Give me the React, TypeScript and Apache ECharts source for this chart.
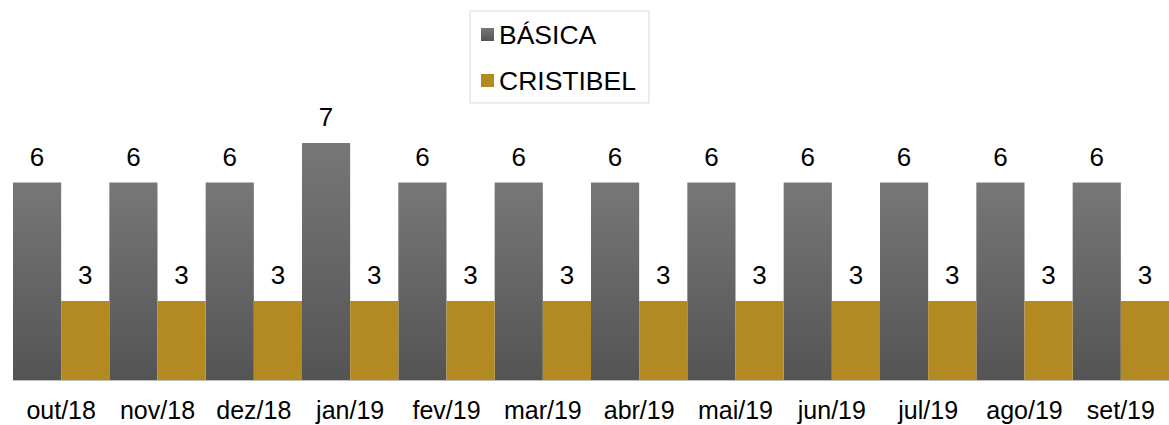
import React, { useEffect, useRef } from "react";
import * as echarts from "echarts";

const categories = ["out/18", "nov/18", "dez/18", "jan/19", "fev/19", "mar/19", "abr/19", "mai/19", "jun/19", "jul/19", "ago/19", "set/19"];
const basica = [6, 6, 6, 7, 6, 6, 6, 6, 6, 6, 6, 6];
const cristibel = [3, 3, 3, 3, 3, 3, 3, 3, 3, 3, 3, 3];

const FONT = "'Liberation Sans', Arial, sans-serif";

export default function App() {
  const ref = useRef<HTMLDivElement>(null);
  useEffect(() => {
    if (!ref.current) return;
    const chart = echarts.init(ref.current, undefined, { renderer: "svg" });
    const grayGrad = new echarts.graphic.LinearGradient(0, 0, 0, 1, [
      { offset: 0, color: "#777777" },
      { offset: 1, color: "#545454" },
    ]);
    chart.setOption({
      animation: false,
      textStyle: { fontFamily: FONT },
      legend: {
        orient: "vertical",
        left: 470,
        top: 11,
        padding: [10, 13, 9, 11],
        itemGap: 19,
        itemWidth: 13,
        itemHeight: 13,
        borderColor: "#d9d9d9",
        borderWidth: 1,
        icon: "rect",
        textStyle: { fontSize: 26.5, color: "#000", fontFamily: FONT },
        data: ["BÁSICA", "CRISTIBEL"],
      },
      grid: { left: 13, right: 0, top: 103.5, bottom: 45, containLabel: false },
      xAxis: {
        type: "category",
        data: categories,
        axisLine: { show: true, lineStyle: { color: "#bfbfbf", width: 1 } },
        axisTick: { show: false },
        axisLabel: { fontSize: 25, lineHeight: 22, color: "#000", margin: 19, fontFamily: FONT, interval: 0 },
      },
      yAxis: {
        type: "value",
        min: 1,
        max: 8,
        show: false,
        splitLine: { show: false },
      },
      series: [
        {
          name: "BÁSICA",
          type: "bar",
          data: basica,
          barGap: "0%",
          barCategoryGap: "0%",
          itemStyle: { color: grayGrad },
          label: { show: true, position: "top", distance: 13, fontSize: 26, color: "#000", fontFamily: FONT },
        },
        {
          name: "CRISTIBEL",
          type: "bar",
          data: cristibel,
          barGap: "0%",
          barCategoryGap: "0%",
          itemStyle: { color: "#b38a22" },
          label: { show: true, position: "top", distance: 13, fontSize: 26, color: "#000", fontFamily: FONT },
        },
      ],
    });
    return () => chart.dispose();
  }, []);
  return <div ref={ref} style={{ width: 1169, height: 425, position: "absolute", left: 0, top: 0 }} />;
}
